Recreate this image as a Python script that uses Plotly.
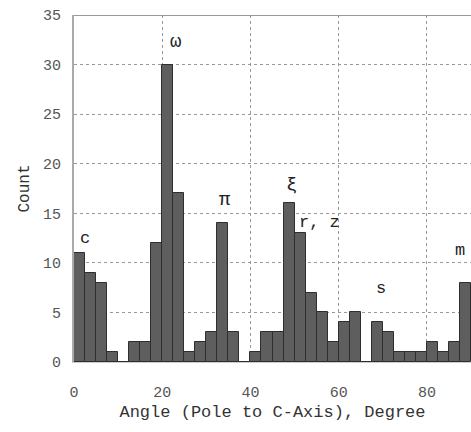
import plotly.graph_objects as go

bin_width = 2.5
bin_starts = [0, 2.5, 5, 7.5, 10, 12.5, 15, 17.5, 20, 22.5, 25, 27.5, 30, 32.5, 35, 37.5,
              40, 42.5, 45, 47.5, 50, 52.5, 55, 57.5, 60, 62.5, 65, 67.5, 70, 72.5, 75,
              77.5, 80, 82.5, 85, 87.5]
counts = [11, 9, 8, 1, 0, 2, 2, 12, 30, 17, 1, 2, 3, 14, 3, 0,
          1, 3, 3, 16, 13, 7, 5, 2, 4, 5, 0, 4, 3, 1, 1,
          1, 2, 1, 2, 8]

label_text = ["c", "ω", "π", "ξ", "r, z", "s", "m"]
label_x = [2.6, 23.1, 34.2, 49.2, 55.6, 69.5, 87.6]
label_y = [12.5, 32.3, 16.3, 17.9, 14.1, 7.4, 11.2]
label_size = [17, 19, 19, 19, 17, 17, 17]

x_ticks = [0, 20, 40, 60, 80]
y_ticks = [0, 5, 10, 15, 20, 25, 30, 35]

centers = [s + bin_width / 2 for s in bin_starts]

FONT = "Liberation Mono"

fig = go.Figure()
fig.add_trace(go.Bar(
    x=centers, y=counts, width=bin_width,
    marker=dict(color="#5e5e5e", line=dict(color="#2e2e2e", width=1)),
    showlegend=False, hoverinfo="skip",
))

for t, x, y, s in zip(label_text, label_x, label_y, label_size):
    fig.add_annotation(x=x, y=y, xref="x", yref="y", text=t, showarrow=False,
                       font=dict(family=FONT, size=s, color="#222"))

fig.update_layout(
    width=471, height=432,
    margin=dict(l=74, r=0, t=15, b=70, autoexpand=False),
    plot_bgcolor="white", paper_bgcolor="white",
    bargap=0,
    font=dict(family=FONT, color="#333"),
)
fig.update_xaxes(
    range=[0, 90], tickvals=x_ticks, showgrid=True, gridcolor="#999",
    griddash="dot", gridwidth=1, zeroline=False, automargin=False,
    showline=True, linecolor="#ccc", linewidth=1,
    tickfont=dict(family=FONT, size=15, color="#555"), ticklabelstandoff=16,
    title=dict(text="Angle (Pole to C-Axis), Degree",
               font=dict(family=FONT, size=17, color="#333"), standoff=4),
)
fig.update_yaxes(
    range=[0, 35], tickvals=y_ticks, showgrid=True, gridcolor="#999",
    griddash="dot", gridwidth=1, zeroline=False, automargin=False,
    showline=True, linecolor="#aaa", linewidth=2,
    tickfont=dict(family=FONT, size=15, color="#555"), ticklabelstandoff=8,
    title=dict(text="Count", font=dict(family=FONT, size=16, color="#333"), standoff=9),
)
fig.add_shape(type="line", xref="paper", yref="y", x0=0, x1=1, y0=35, y1=35,
              line=dict(color="#999", width=2))

fig.write_html("out.html", config={"displayModeBar": False},
               post_script="document.body.style.margin='0';document.body.style.overflow='hidden';")
